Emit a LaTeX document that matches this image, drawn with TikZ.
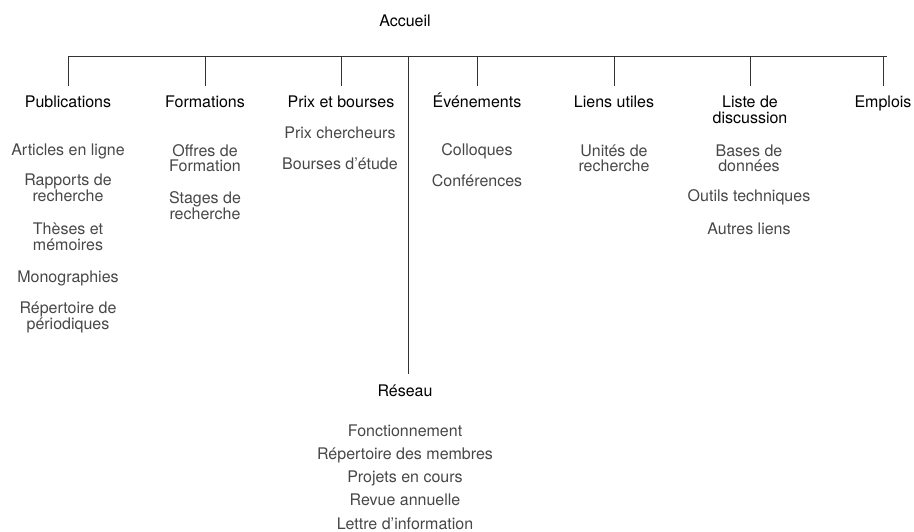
\documentclass[tikz,border=0pt]{standalone}
\usepackage{fontspec}
\setmainfont{TeX Gyre Heros}
\usetikzlibrary{calc}

\begin{document}
\begin{tikzpicture}[x=1pt, y=-1pt]
        % ================= 样式 =================
        \tikzset{
            % 栏目标题 (黑色)
            head_node/.style={font=\fontsize{16}{16}\selectfont, text=black, align=center,
                inner xsep=0pt, inner ysep=10.5pt, text height=11.5pt, text depth=3.5pt, anchor=base},
            % 子栏目 (灰色)
            item_node/.style={font=\fontsize{16}{16}\selectfont, text=black!72, align=center,
                inner sep=0pt, anchor=base},
            % 连线
            tree_edge/.style={draw=black!80, line width=0.9pt}
        }
        \useasboundingbox (0,0) rectangle (914,532);

        % ================= 根与总线 =================
        \node[item_node, text=black] (root) at (405,27) {Accueil};
        \coordinate (bus_l) at (68,56);
        \coordinate (bus_r) at (887,56);

        % ================= 栏目标题 =================
        % 多行节点的 base 在最后一行
        \node[head_node] (pub)   at (68,108)  {Publications};
        \node[head_node] (form)  at (205,108) {Formations};
        \node[head_node] (prix)  at (341,108) {Prix et bourses};
        \node[head_node] (evt)   at (477,108) {Événements};
        \node[head_node] (liens) at (614,108) {Liens utiles};
        \node[head_node, text height=27.5pt] (liste) at (750,124) {Liste de\\discussion};
        \node[head_node] (emp)   at (883,108) {Emplois};
        \node[head_node] (res)   at (405,396) {Réseau};

        % ================= 连线 =================
        \draw[tree_edge] (bus_l) -- (bus_r);
        \foreach \h in {pub, form, prix, evt, liens, liste, emp}
            \draw[tree_edge] (bus_l -| \h.north) -- (\h.north);
        \draw[tree_edge] (bus_l -| res.north) ++(3,0) coordinate (res_top) -- (res_top |- res.north);

        % ================= 子栏目 =================
        % Publications
        \node[item_node] (pub1) at (68,156) {Articles en ligne};
        \node[item_node] (pub2) at (68,202) {Rapports de\\recherche};
        \node[item_node] (pub3) at (68,251) {Thèses et\\mémoires};
        \node[item_node] (pub4) at (68,282) {Monographies};
        \node[item_node] (pub5) at (68,329) {Répertoire de\\périodiques};
        % Formations
        \node[item_node] (form1) at (205,172) {Offres de\\Formation};
        \node[item_node] (form2) at (205,219) {Stages de\\recherche};
        % Prix et bourses
        \node[item_node] (prix1) at (340,139) {Prix chercheurs};
        \node[item_node] (prix2) at (340,170) {Bourses d’étude};
        % Événements
        \node[item_node] (evt1) at (477,156) {Colloques};
        \node[item_node] (evt2) at (477,187) {Conférences};
        % Liens utiles
        \node[item_node] (liens1) at (614,172) {Unités de\\recherche};
        % Liste de discussion
        \node[item_node] (liste1) at (749,172) {Bases de\\données};
        \node[item_node] (liste2) at (749,202) {Outils techniques};
        \node[item_node] (liste3) at (749,234) {Autres liens};
        % Réseau
        \node[item_node] (res1) at (405,436) {Fonctionnement};
        \node[item_node] (res2) at (405,459) {Répertoire des membres};
        \node[item_node] (res3) at (405,482) {Projets en cours};
        \node[item_node] (res4) at (405,505) {Revue annuelle};
        \node[item_node] (res5) at (405,529) {Lettre d’information};

    \end{tikzpicture}
\end{document}
